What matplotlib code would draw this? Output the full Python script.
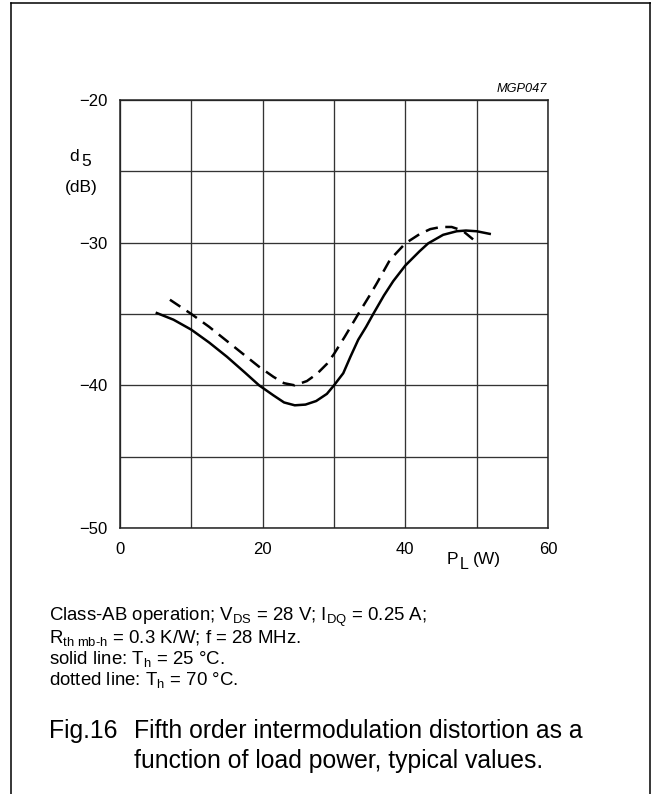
import matplotlib
matplotlib.use('Agg')
import matplotlib.pyplot as plt
from matplotlib.lines import Line2D

plt.rcParams['font.family'] = ['Liberation Sans', 'DejaVu Sans']
plt.rcParams['mathtext.fontset'] = 'custom'
plt.rcParams['mathtext.rm'] = 'Liberation Sans'
plt.rcParams['mathtext.it'] = 'Liberation Sans:italic'

# data (P_L in W, d5 in dB)
pl_25 = [5, 7.5, 10, 12.5, 15, 17.5, 19.5, 21.5, 23, 24.5, 26, 27.5, 29, 30,
         31.3, 32.3, 33.4, 34.5, 35.5, 37, 38.3, 40, 42, 43.2, 45.3, 47.2,
         48.5, 50, 52]
d5_25 = [-34.9, -35.4, -36.1, -37.0, -38.0, -39.1, -40.0, -40.7, -41.2, -41.4,
         -41.35, -41.1, -40.6, -40.0, -39.15, -38.0, -36.8, -35.9, -35.0, -33.7,
         -32.7, -31.6, -30.6, -30.05, -29.45, -29.2, -29.15, -29.2, -29.4]

pl_70 = [7, 8.5, 10, 12.5, 15, 17.5, 19.5, 21.5, 23, 24.5, 26.2, 27.6, 29, 30,
         31.5, 33.4, 35, 36, 37.85, 40, 42, 43.5, 45, 46.5, 48, 49.5]
d5_70 = [-34.0, -34.5, -35.0, -35.9, -36.9, -37.9, -38.7, -39.4, -39.85, -40.0,
         -39.7, -39.2, -38.5, -37.8, -36.6, -35.0, -33.7, -32.85, -31.2, -30.05,
         -29.4, -29.05, -28.9, -28.9, -29.15, -29.77]

x_grid = [0, 10, 20, 30, 40, 50, 60]
x_labels = ['0', '', '20', '', '40', '', '60']
y_grid = [-50, -45, -40, -35, -30, -25, -20]
y_labels = ['\u221250', '', '\u221240', '', '\u221230', '', '\u221220']

notes = [
    r'Class-AB operation; V$_{\rm DS}$ = 28 V; I$_{\rm DQ}$ = 0.25 A;',
    r'R$_{\rm th\ mb\text{-}h}$ = 0.3 K/W; f = 28 MHz.',
    r'solid line: T$_{\rm h}$ = 25 °C.',
    r'dotted line: T$_{\rm h}$ = 70 °C.',
]

W, H = 651, 794
fig = plt.figure(figsize=(W / 100, H / 100), dpi=100)

# outer frame (left, top, right)
fig.add_artist(Line2D([11 / W, 11 / W], [0, 1 - 3 / H], color='black', lw=1.1))
fig.add_artist(Line2D([11 / W, 1], [1 - 3 / H, 1 - 3 / H], color='black', lw=1.1))
fig.add_artist(Line2D([650 / W, 650 / W], [0, 1 - 3 / H], color='black', lw=1.1))

ax = fig.add_axes([120 / W, 1 - 528 / H, 428 / W, 428 / H])
ax.plot(pl_25, d5_25, color='black', lw=1.8, solid_capstyle='butt')
ax.plot(pl_70, d5_70, color='black', lw=1.8, linestyle=(0, (5.0, 3.0)))

ax.set_xlim(0, 60)
ax.set_ylim(-50, -20)
ax.set_xticks(x_grid)
ax.set_xticklabels(x_labels)
ax.set_yticks(y_grid)
ax.set_yticklabels(y_labels)
ax.grid(True, color='#333333', lw=0.95)
ax.set_axisbelow(True)
ax.tick_params(length=0, labelsize=12, colors='black')
ax.tick_params(axis='x', pad=10)
ax.tick_params(axis='y', pad=9)
for s in ax.spines.values():
    s.set_linewidth(1.1)
    s.set_color('#222222')

fig.text(547 / W, 1 - 92 / H, 'MGP047', ha='right', va='baseline',
         fontsize=9.2, style='italic')

# axis titles with large subscripts, as in the reference
fig.text(69 / W, 1 - 161 / H, 'd', ha='left', va='baseline', fontsize=12.5)
fig.text(81 / W, 1 - 166 / H, '5', ha='left', va='baseline', fontsize=12.5)
fig.text(81 / W, 1 - 192 / H, '(dB)', ha='center', va='baseline', fontsize=12.5)

fig.text(447 / W, 1 - 564 / H, 'P', ha='left', va='baseline', fontsize=12.5)
fig.text(460 / W, 1 - 569 / H, 'L', ha='left', va='baseline', fontsize=11.5)
fig.text(473 / W, 1 - 564 / H, '(W)', ha='left', va='baseline', fontsize=12.5)

for i, line in enumerate(notes):
    fig.text(49 / W, 1 - (621 + 21.5 * i) / H, line, ha='left', va='baseline',
             fontsize=13.4)

fig.text(49 / W, 1 - 738 / H, 'Fig.16', ha='left', va='baseline', fontsize=17.8)
fig.text(134 / W, 1 - 738 / H, 'Fifth order intermodulation distortion as a',
         ha='left', va='baseline', fontsize=17.8)
fig.text(134 / W, 1 - 768 / H, 'function of load power, typical values.',
         ha='left', va='baseline', fontsize=17.8)

fig.savefig('out.png', dpi=100)
